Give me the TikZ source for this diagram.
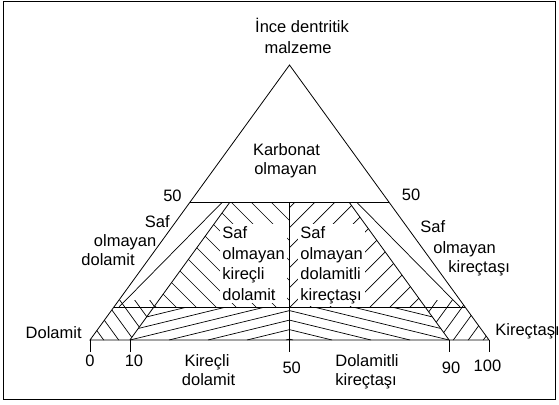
\documentclass[tikz,border=0pt]{standalone}
\usepackage{fontspec}
\setmainfont{Liberation Sans}
\begin{document}
\begin{tikzpicture}[x=1pt,y=-1pt,line width=0.8pt,
  every node/.style={font=\fontsize{16.5}{20.7}\selectfont,inner sep=0pt},
  hatch/.style={line width=0.7pt},
  lbl/.style={anchor=base},
  blockmask/.style={fill=white,inner xsep=2pt,inner ysep=2pt,align=left,anchor=north west}]
\useasboundingbox (0,0) rectangle (559,404);
% frame
\coordinate (F1) at (3,2); \coordinate (F2) at (555.5,399.5);
\draw[line width=1pt] (F1) rectangle (F2);
% key points
\coordinate (A) at (289.5,65);
\coordinate (L) at (90,340);
\coordinate (R) at (489,340);
\coordinate (HL) at (190.25,202.5);
\coordinate (HR) at (388.75,202.5);
\coordinate (LL) at (114,307);
\coordinate (LR) at (465,307);
\coordinate (T10) at (129.9,340);
\coordinate (T90) at (449.1,340);
\coordinate (T50) at (289.5,340);
\coordinate (B1t) at (229.65,202.5);
\coordinate (B2t) at (349.35,202.5);
\coordinate (B1m) at (153.9,307);
\coordinate (B2m) at (425.1,307);
\coordinate (B1u) at (158.9,300);
\coordinate (B2u) at (420.1,300);
\coordinate (Lu) at (119,300);
\coordinate (Ru) at (460,300);
\coordinate (V50t) at (289.5,202.5);
\coordinate (V50m) at (289.5,307);
\coordinate (K0) at (90,352);
\coordinate (K10) at (129.9,352);
\coordinate (K50) at (289.5,352);
\coordinate (K90) at (449.1,352);
\coordinate (K100) at (489,352);
\coordinate (D1a) at (222,202.5); \coordinate (D1b) at (119,307);
\coordinate (D2a) at (357,202.5); \coordinate (D2b) at (460,307);
% hatching: impure calcareous dolomite
\begin{scope}
\clip (B1t) -- (V50t) -- (V50m) -- (B1m) -- cycle;
\foreach \c in {-171,-151,...,89} \draw[hatch] (\c+190,190) -- (\c+320,320);
\end{scope}
% hatching: impure dolomitic limestone
\begin{scope}
\clip (B2t) -- (V50t) -- (V50m) -- (B2m) -- cycle;
\foreach \c in {477,497,...,737} \draw[hatch] (\c-190,190) -- (\c-320,320);
\end{scope}
% hatching: dolomite
\begin{scope}
\clip (L) -- (T10) -- (B1u) -- (Lu) -- cycle;
\foreach \c in {-143,-128,...,-68} \draw[hatch] (\c+210.4,290) -- (\c+250.3,345);
\end{scope}
% hatching: limestone
\begin{scope}
\clip (R) -- (T90) -- (B2u) -- (Ru) -- cycle;
\foreach \c in {655,670,...,730} \draw[hatch] (\c-210.4,290) -- (\c-250.3,345);
\end{scope}
% hatching: calcareous dolomite
\begin{scope}
\clip (B1m) -- (V50m) -- (T50) -- (T10) -- cycle;
\foreach \b in {52,91,...,286} \draw[hatch] (\b,340) -- (\b+200,291.2);
\end{scope}
% hatching: dolomitic limestone
\begin{scope}
\clip (B2m) -- (V50m) -- (T50) -- (T90) -- cycle;
\foreach \b in {52,91,...,286} \draw[hatch] (579-\b,340) -- (379-\b,291.2);
\end{scope}
% band lines
\draw[hatch] (D1a) -- (D1b);
\draw[hatch] (D2a) -- (D2b);
% masked inner labels
\node[blockmask] (inL) at (220,224) {Saf\\olmayan\\kireçli\\dolamit};
\node[blockmask] (inR) at (298,224) {Saf\\olmayan\\dolamitli\\kireçtaşı};
% outlines
\draw (L) -- (A) -- (R) -- cycle;
\draw (HL) -- (HR);
\draw (LL) -- (LR);
\draw (V50t) -- (K50);
\draw (T10) -- (B1t);
\draw (T90) -- (B2t);
\draw (L) -- (K0);
\draw (T10) -- (K10);
\draw (T90) -- (K90);
\draw (R) -- (K100);
% labels
\node[lbl] (top1) at (302,33) {İnce dentritik};
\node[lbl] (top2) at (298,53) {malzeme};
\node[lbl] (karb1) at (286.5,155) {Karbonat};
\node[lbl] (karb2) at (285.5,174) {olmayan};
\node[lbl] (f50l) at (172.5,201.5) {50};
\node[lbl] (f50r) at (411,200) {50};
\node[anchor=base east] (sl1) at (170,227) {Saf};
\node[anchor=base east] (sl2) at (156.7,246) {olmayan};
\node[anchor=base east] (sl3) at (135,265) {dolamit};
\node[anchor=base west] (sr1) at (420,232) {Saf};
\node[anchor=base west] (sr2) at (433,253.5) {olmayan};
\node[anchor=base west] (sr3) at (448,272) {kireçtaşı};
\node[anchor=base east] (dol) at (82,338) {Dolamit};
\node[anchor=base west] (kir) at (495,335.5) {Kireçtaşı};
\node[lbl] (n0) at (90,366.7) {0};
\node[lbl] (n10) at (134,366.7) {10};
\node[lbl] (n50) at (291.7,373) {50};
\node[lbl] (n90) at (451,373) {90};
\node[lbl] (n100) at (487.5,371.7) {100};
\node[lbl] (kd1) at (207,366.7) {Kireçli};
\node[lbl] (kd2) at (208.5,385) {dolamit};
\node[anchor=base west] (dk1) at (335,366.7) {Dolamitli};
\node[anchor=base west] (dk2) at (335,385.3) {kireçtaşı};
\end{tikzpicture}
\end{document}
